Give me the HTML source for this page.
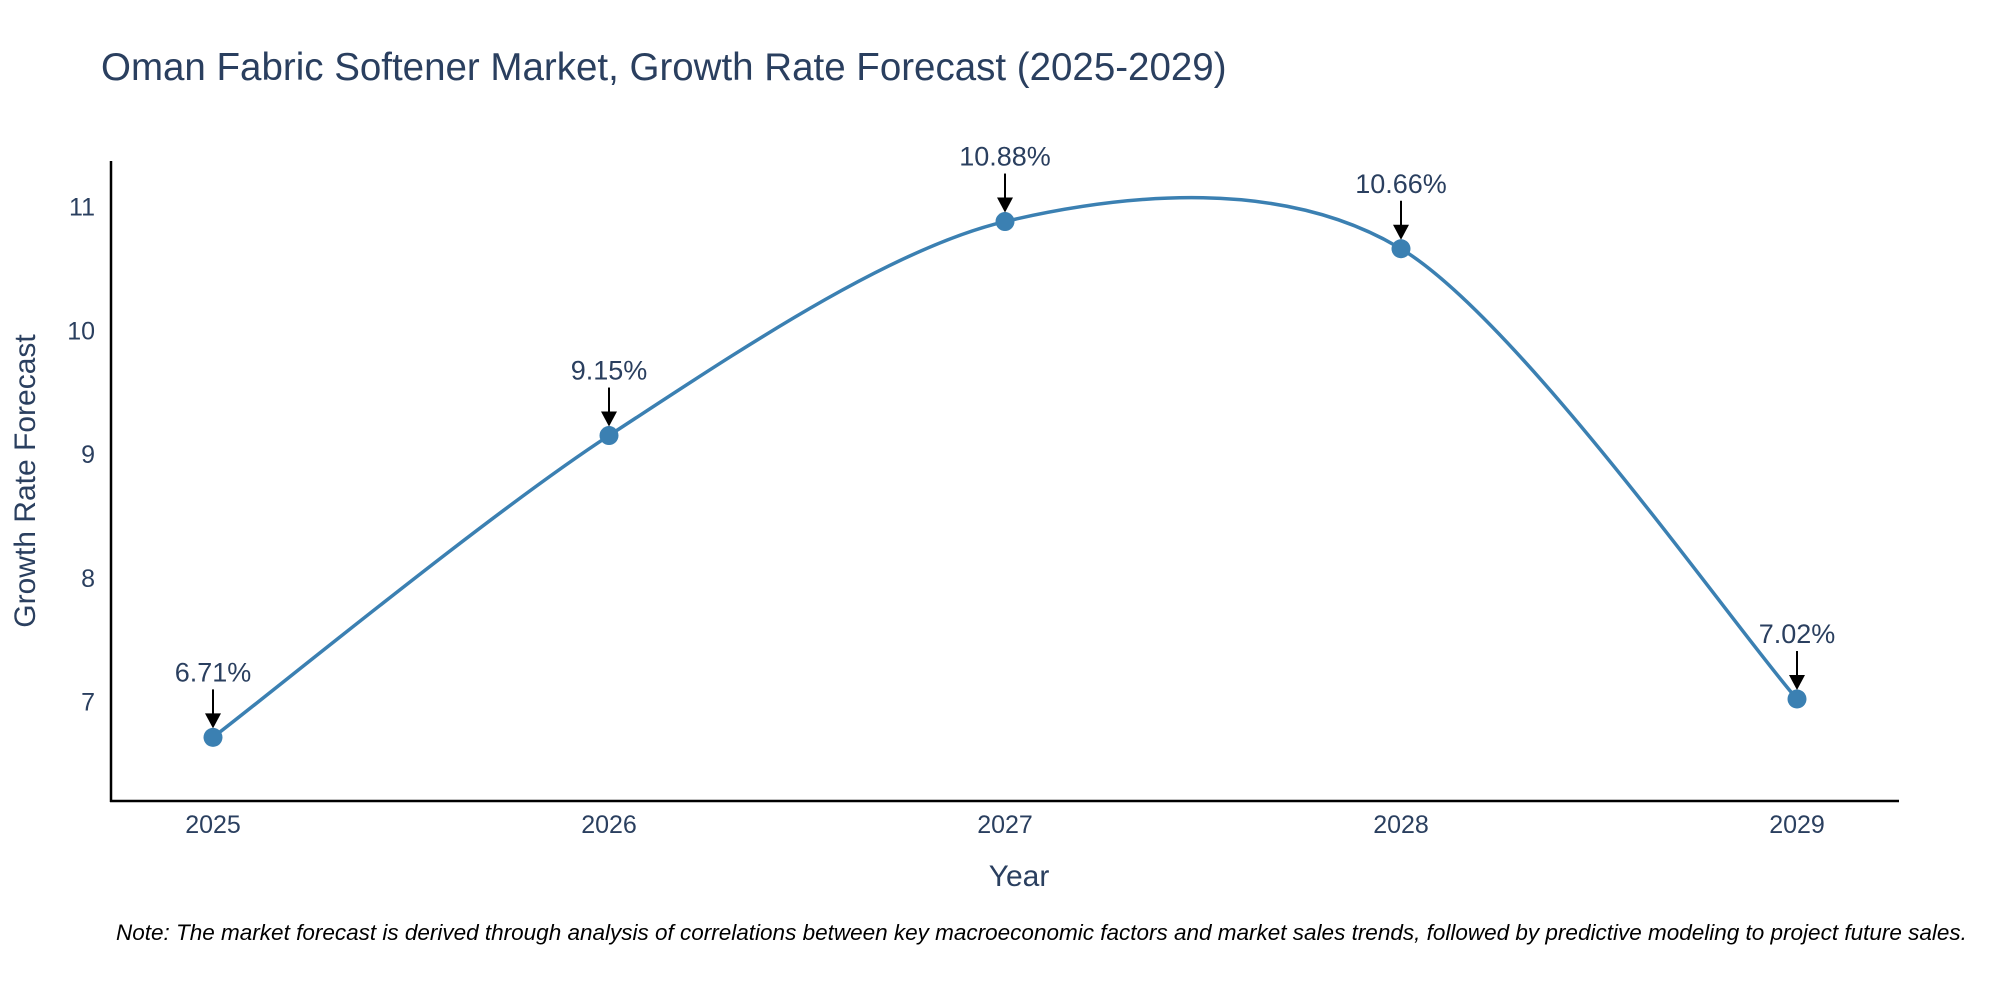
<!DOCTYPE html>
<html><head><meta charset="utf-8"><style>
html,body{margin:0;padding:0;background:#fff;}
svg{display:block;font-family:"Liberation Sans","DejaVu Sans",sans-serif;}
</style></head><body>
<svg width="2000" height="1000" viewBox="0 0 2000 1000">
<text x="101" y="80" font-size="38.5" fill="#2a3f5f">Oman Fabric Softener Market, Growth Rate Forecast (2025-2029)</text>
<g id="axes"></g>
<g id="plot"></g>
<text x="1019" y="886" font-size="30" fill="#2a3f5f" text-anchor="middle">Year</text>
<text transform="translate(35,481) rotate(-90)" font-size="30" fill="#2a3f5f" text-anchor="middle">Growth Rate Forecast</text>
<text x="116" y="940" font-size="22.5" font-style="italic" fill="#000">Note: The market forecast is derived through analysis of correlations between key macroeconomic factors and market sales trends, followed by predictive modeling to project future sales.</text>
</svg>
<script>
const years = [2025, 2026, 2027, 2028, 2029];
const growth = [6.71, 9.15, 10.88, 10.66, 7.02];
const labels = ["6.71%", "9.15%", "10.88%", "10.66%", "7.02%"];
const yTicks = [7, 8, 9, 10, 11];

const NS = "http://www.w3.org/2000/svg";
const xs = v => 213 + (v - 2025) * (1797 - 213) / 4;
const ys = v => 701.5 - (v - 7) * 123.7;
function mk(tag, attrs, parent, text){const e=document.createElementNS(NS,tag);for(const k in attrs)e.setAttribute(k,attrs[k]);if(text!==undefined)e.textContent=text;parent.appendChild(e);return e;}
const axes=document.getElementById('axes'), plot=document.getElementById('plot');

let a=mk('line',{x1:111,y1:161,x2:111,y2:802,stroke:'#000','stroke-width':2.5},axes);

a=mk('line',{x1:110,y1:801,x2:1899,y2:801,stroke:'#000','stroke-width':2.5},axes);


yTicks.forEach(t=>{const e=mk('text',{x:95,y:ys(t)+9,'font-size':25,fill:'#2a3f5f','text-anchor':'end'},axes,String(t));
});
years.forEach(y=>{const e=mk('text',{x:xs(y),y:833,'font-size':25,fill:'#2a3f5f','text-anchor':'middle'},axes,String(y));
});

const P=years.map((y,i)=>[xs(y),ys(growth[i])]);
let d=`M${P[0][0]},${P[0][1]}`;
for(let i=0;i<P.length-1;i++){
 const p0=P[Math.max(i-1,0)],p1=P[i],p2=P[i+1],p3=P[Math.min(i+2,P.length-1)];
 const t=0.15;
 const c1=[p1[0]+(p2[0]-p0[0])*t,p1[1]+(p2[1]-p0[1])*t];
 const c2=[p2[0]-(p3[0]-p1[0])*t,p2[1]-(p3[1]-p1[1])*t];
 d+=` C${c1[0]},${c1[1]} ${c2[0]},${c2[1]} ${p2[0]},${p2[1]}`;
}
const ln=mk('path',{d:d,fill:'none',stroke:'#3b80b2','stroke-width':3.5},plot);


P.forEach((p,i)=>{
 const c=mk('circle',{cx:p[0],cy:p[1],r:9.5,fill:'#3b80b2'},plot);
 
 const l=mk('line',{x1:p[0],y1:p[1]-48,x2:p[0],y2:p[1]-22,stroke:'#000','stroke-width':2},plot);
 
 const h=mk('polygon',{points:`${p[0]-8},${p[1]-24} ${p[0]+8},${p[1]-24} ${p[0]},${p[1]-9}`,fill:'#000'},plot);
 
 const t=mk('text',{x:p[0],y:p[1]-56,'font-size':27,fill:'#2a3f5f','text-anchor':'middle'},plot,labels[i]);
 
});
</script>
</body></html>
